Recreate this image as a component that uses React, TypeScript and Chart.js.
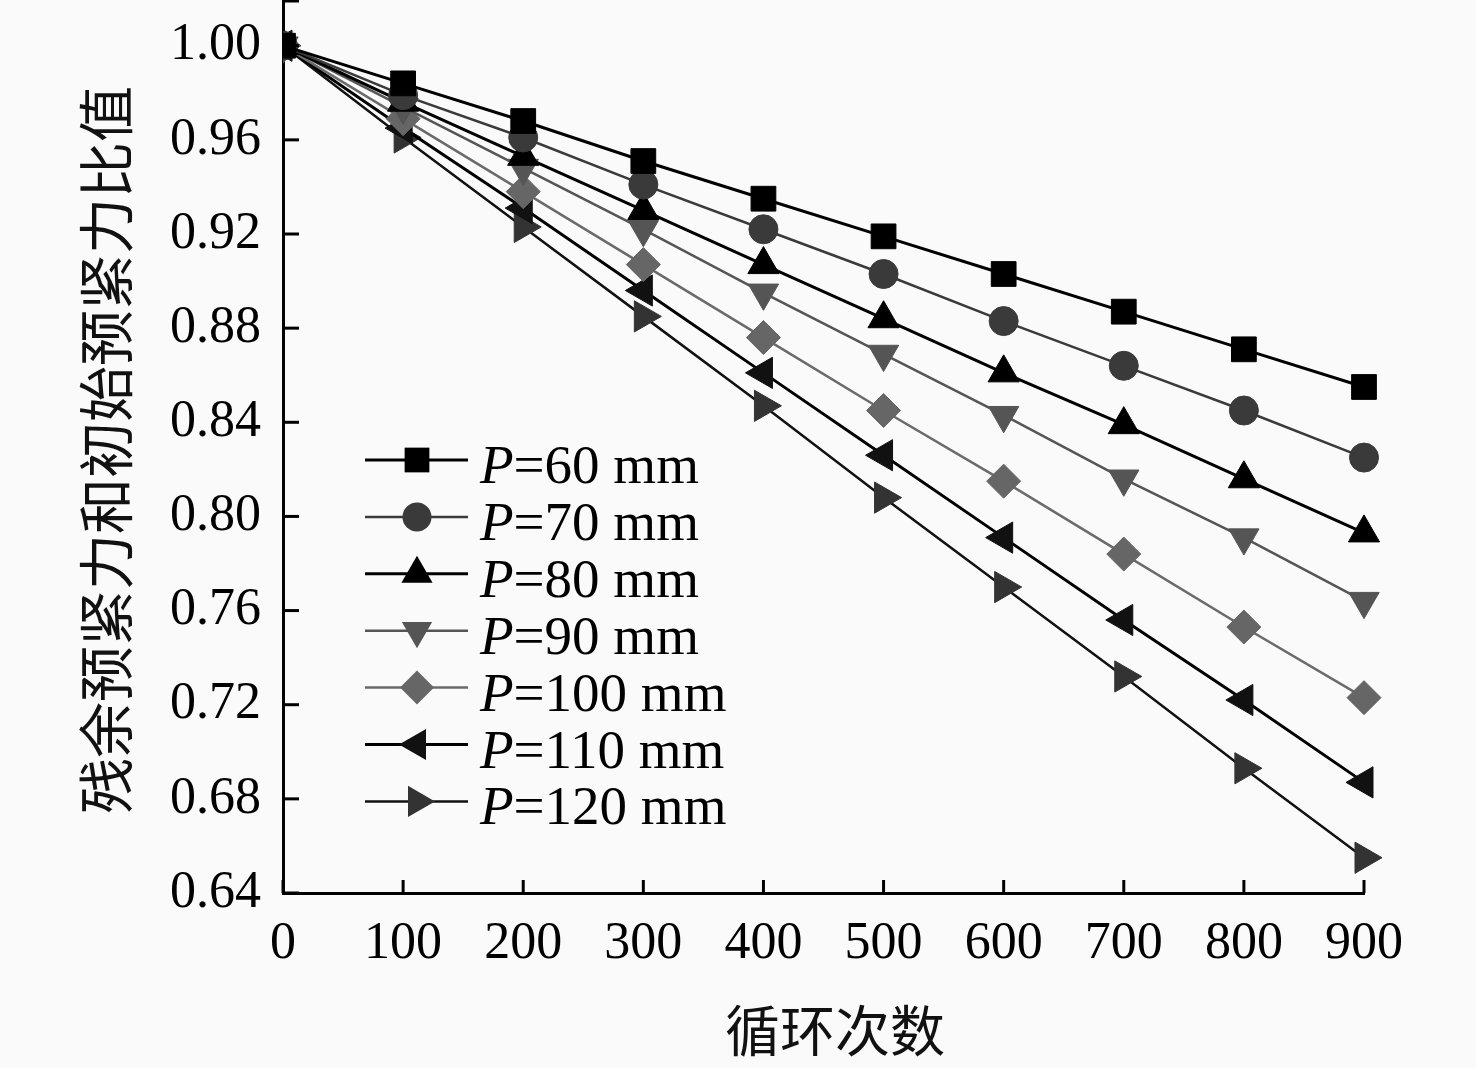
import React, { useEffect, useRef } from 'react';
import { Chart, registerables } from 'chart.js';

Chart.register(...registerables);

// ---- data ----
const cycles = [0, 100, 200, 300, 400, 500, 600, 700, 800, 900];
const seriesLabels = ['60', '70', '80', '90', '100', '110', '120'];
const p60 = [1.0, 0.984, 0.968, 0.951, 0.935, 0.919, 0.903, 0.887, 0.871, 0.855];
const p70 = [1.0, 0.979, 0.961, 0.941, 0.922, 0.903, 0.883, 0.864, 0.845, 0.825];
const p80 = [1.0, 0.976, 0.953, 0.93, 0.907, 0.884, 0.861, 0.839, 0.816, 0.793];
const p90 = [1.0, 0.974, 0.948, 0.922, 0.895, 0.869, 0.843, 0.816, 0.791, 0.764];
const p100 = [1.0, 0.969, 0.938, 0.907, 0.876, 0.845, 0.815, 0.784, 0.753, 0.723];
const p110 = [1.0, 0.965, 0.931, 0.896, 0.861, 0.826, 0.791, 0.756, 0.722, 0.687];
const p120 = [1.0, 0.961, 0.923, 0.885, 0.847, 0.808, 0.77, 0.732, 0.693, 0.655];
const seriesValues = [p60, p70, p80, p90, p100, p110, p120];
const xTickValues = [0, 100, 200, 300, 400, 500, 600, 700, 800, 900];
const yTickValues = [0.64, 0.68, 0.72, 0.76, 0.8, 0.84, 0.88, 0.92, 0.96, 1.0];
const xTitle = '循环次数';
const yTitle = '残余预紧力和初始预紧力比值';

// ---- styles ----
const Y_MAX = 1.019;
const SERIF = '"Liberation Serif", "Times New Roman", serif';
const CJK = '"Noto Sans CJK SC", sans-serif';
const styles = [
  { line: '#000000', fill: '#000000', width: 3, shape: 'rect', r: 17.5, rot: 0 },
  { line: '#3a3a3a', fill: '#3a3a3a', width: 2.5, shape: 'circle', r: 14.5, rot: 0 },
  { line: '#000000', fill: '#000000', width: 3, shape: 'triangle', r: 18, rot: 0 },
  { line: '#555555', fill: '#555555', width: 2.5, shape: 'triangle', r: 17.5, rot: 180 },
  { line: '#6a6a6a', fill: '#666666', width: 2.5, shape: 'rectRot', r: 17, rot: 0 },
  { line: '#000000', fill: '#111111', width: 3, shape: 'triangle', r: 18, rot: -90 },
  { line: '#111111', fill: '#333333', width: 2.5, shape: 'triangle', r: 18, rot: 90 },
];

function drawMarker(ctx: CanvasRenderingContext2D, shape: string, x: number, y: number, r: number, rotDeg: number) {
  const rad = (rotDeg * Math.PI) / 180;
  ctx.beginPath();
  if (shape === 'circle') {
    ctx.arc(x, y, r, 0, Math.PI * 2);
  } else if (shape === 'rect') {
    const s = Math.SQRT1_2 * r;
    ctx.rect(x - s, y - s, 2 * s, 2 * s);
  } else if (shape === 'rectRot') {
    ctx.moveTo(x, y - r);
    ctx.lineTo(x + r, y);
    ctx.lineTo(x, y + r);
    ctx.lineTo(x - r, y);
    ctx.closePath();
  } else {
    let a = rad;
    ctx.moveTo(x + Math.sin(a) * r, y - Math.cos(a) * r);
    a += (2 * Math.PI) / 3;
    ctx.lineTo(x + Math.sin(a) * r, y - Math.cos(a) * r);
    a += (2 * Math.PI) / 3;
    ctx.lineTo(x + Math.sin(a) * r, y - Math.cos(a) * r);
    ctx.closePath();
  }
  ctx.fill();
}

const decorPlugin = {
  id: 'decor',
  beforeDraw(chart: any) {
    const { ctx, width, height } = chart;
    ctx.save();
    ctx.fillStyle = '#fafafa';
    ctx.fillRect(0, 0, width, height);
    ctx.restore();
  },
  afterDraw(chart: any) {
    const { ctx, chartArea } = chart;
    const xs = chart.scales.x;
    const ys = chart.scales.y;
    ctx.save();
    // inward tick marks
    ctx.strokeStyle = '#000';
    ctx.lineWidth = 3;
    xTickValues.forEach((v) => {
      const px = xs.getPixelForValue(v);
      ctx.beginPath();
      ctx.moveTo(px, chartArea.bottom);
      ctx.lineTo(px, chartArea.bottom - 13);
      ctx.stroke();
    });
    [...yTickValues, Y_MAX].forEach((v) => {
      const py = ys.getPixelForValue(v);
      ctx.beginPath();
      ctx.moveTo(chartArea.left, py);
      ctx.lineTo(chartArea.left + 16, py);
      ctx.stroke();
    });

    // axis titles
    ctx.fillStyle = '#111';
    ctx.textAlign = 'center';
    ctx.textBaseline = 'middle';
    ctx.font = `55px ${CJK}`;
    ctx.fillText(xTitle, 835, 1030);
    ctx.save();
    ctx.translate(106, 450);
    ctx.rotate(-Math.PI / 2);
    ctx.font = `56px ${CJK}`;
    ctx.fillText(yTitle, 0, 0);
    ctx.restore();

    // legend
    const lineX0 = 365;
    const lineX1 = 468;
    const markX = 417;
    const textX = 480;
    seriesLabels.forEach((lab, i) => {
      const st = styles[i];
      const ly = 460 + 56.9 * i;
      ctx.strokeStyle = st.line;
      ctx.lineWidth = st.width;
      ctx.beginPath();
      ctx.moveTo(lineX0, ly);
      ctx.lineTo(lineX1, ly);
      ctx.stroke();
      ctx.fillStyle = st.fill;
      drawMarker(ctx, st.shape, markX, ly, st.r, st.rot);
      ctx.fillStyle = '#000';
      ctx.textAlign = 'left';
      ctx.textBaseline = 'alphabetic';
      ctx.font = `italic 55px ${SERIF}`;
      ctx.fillText('P', textX, ly + 23);
      const w = ctx.measureText('P').width;
      ctx.font = `55px ${SERIF}`;
      ctx.fillText(`=${lab} mm`, textX + w, ly + 23);
    });
    ctx.restore();
  },
};

export default function App() {
  const ref = useRef<HTMLCanvasElement | null>(null);
  useEffect(() => {
    if (!ref.current) return;
    const datasets = seriesValues.map((vals, i) => {
      const st = styles[i];
      return {
        label: `P=${seriesLabels[i]} mm`,
        data: cycles.map((c, j) => ({ x: c, y: vals[j] })),
        borderColor: st.line,
        borderWidth: st.width,
        backgroundColor: st.fill,
        pointBackgroundColor: st.fill,
        pointBorderColor: st.fill,
        pointBorderWidth: 1,
        pointStyle: st.shape,
        pointRotation: st.rot,
        pointRadius: st.r,
        pointHoverRadius: st.r,
        tension: 0,
        fill: false,
        clip: { left: 0, top: 5, right: 30, bottom: 5 },
      };
    });
    const chart = new Chart(ref.current, {
      type: 'line',
      data: { datasets },
      plugins: [decorPlugin],
      options: {
        animation: false,
        responsive: false,
        devicePixelRatio: 1,
        layout: { autoPadding: false, padding: { top: 1, right: 112, left: 0, bottom: 0 } },
        plugins: { legend: { display: false }, tooltip: { enabled: false } },
        scales: {
          x: {
            type: 'linear',
            min: 0,
            max: 900,
            afterFit: (s: any) => { s.height = 175; s.paddingLeft = 0; s.paddingRight = 0; },
            afterBuildTicks: (s: any) => { s.ticks = xTickValues.map((v) => ({ value: v })); },
            grid: { display: false, drawTicks: false },
            border: { display: true, color: '#000', width: 3 },
            ticks: {
              color: '#000',
              font: { family: SERIF, size: 52 },
              padding: 20,
              maxRotation: 0,
              autoSkip: false,
              callback: (v: any) => String(v),
            },
          },
          y: {
            type: 'linear',
            min: 0.64,
            max: Y_MAX,
            afterFit: (s: any) => { s.width = 283; s.paddingTop = 0; s.paddingBottom = 0; },
            afterBuildTicks: (s: any) => { s.ticks = yTickValues.map((v) => ({ value: v })); },
            grid: { display: false, drawTicks: false },
            border: { display: true, color: '#000', width: 3 },
            ticks: {
              color: '#000',
              font: { family: SERIF, size: 52 },
              padding: 22,
              autoSkip: false,
              callback: (v: any) => Number(v).toFixed(2),
            },
          },
        },
      },
    } as any);
    return () => chart.destroy();
  }, []);
  return (
    <div style={{ position: 'absolute', left: 0, top: 0, width: 1476, height: 1068, background: '#fafafa' }}>
      <canvas ref={ref} width={1476} height={1068} style={{ width: 1476, height: 1068, display: 'block' }} />
    </div>
  );
}
